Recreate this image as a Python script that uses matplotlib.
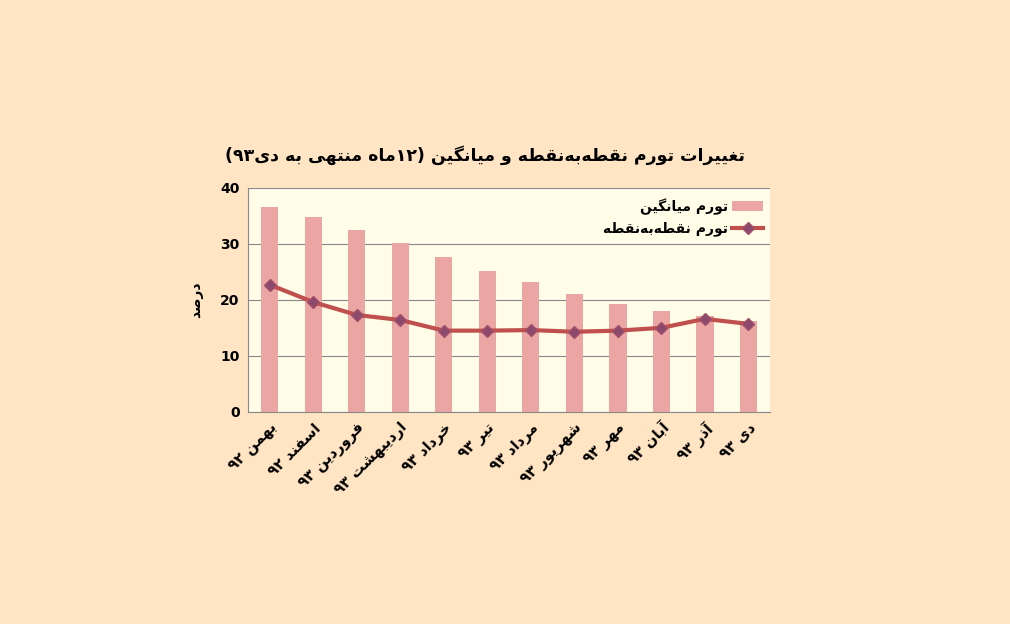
import matplotlib
matplotlib.use("Agg")
import matplotlib.pyplot as plt
import numpy as np

months = ["بهمن ۹۲", "اسفند ۹۲", "فروردین ۹۳", "اردیبهشت ۹۳", "خرداد ۹۳", "تیر ۹۳",
          "مرداد ۹۳", "شهریور ۹۳", "مهر ۹۳", "آبان ۹۳", "آذر ۹۳", "دی ۹۳"]
avg_infl = [36.6, 34.8, 32.5, 30.2, 27.7, 25.2, 23.2, 21.1, 19.3, 18.0, 17.1, 16.3]
p2p_infl = [22.7, 19.6, 17.3, 16.4, 14.5, 14.5, 14.6, 14.3, 14.5, 15.0, 16.6, 15.7]
title = "تغییرات تورم نقطه\u200cبه\u200cنقطه و میانگین (۱۲ماه منتهی به دی۹۳)"
leg_avg = "تورم میانگین"
leg_p2p = "تورم نقطه\u200cبه\u200cنقطه"
ylabel = "درصد"

# minimal Arabic/Persian shaping: (isolated, final, initial, medial)
FORMS = {
    'ا': (0xFE8D, 0xFE8E, None, None), 'آ': (0xFE81, 0xFE82, None, None),
    'د': (0xFEA9, 0xFEAA, None, None), 'ذ': (0xFEAB, 0xFEAC, None, None),
    'ر': (0xFEAD, 0xFEAE, None, None), 'ز': (0xFEAF, 0xFEB0, None, None),
    'و': (0xFEED, 0xFEEE, None, None),
    'ب': (0xFE8F, 0xFE90, 0xFE91, 0xFE92), 'ت': (0xFE95, 0xFE96, 0xFE97, 0xFE98),
    'خ': (0xFEA5, 0xFEA6, 0xFEA7, 0xFEA8), 'س': (0xFEB1, 0xFEB2, 0xFEB3, 0xFEB4),
    'ش': (0xFEB5, 0xFEB6, 0xFEB7, 0xFEB8), 'ط': (0xFEC1, 0xFEC2, 0xFEC3, 0xFEC4),
    'ص': (0xFEB9, 0xFEBA, 0xFEBB, 0xFEBC),
    'غ': (0xFECD, 0xFECE, 0xFECF, 0xFED0), 'ف': (0xFED1, 0xFED2, 0xFED3, 0xFED4),
    'ق': (0xFED5, 0xFED6, 0xFED7, 0xFED8), 'ک': (0xFB8E, 0xFB8F, 0xFB90, 0xFB91),
    'گ': (0xFB92, 0xFB93, 0xFB94, 0xFB95), 'ل': (0xFEDD, 0xFEDE, 0xFEDF, 0xFEE0),
    'م': (0xFEE1, 0xFEE2, 0xFEE3, 0xFEE4), 'ن': (0xFEE5, 0xFEE6, 0xFEE7, 0xFEE8),
    'ه': (0xFEE9, 0xFEEA, 0xFEEB, 0xFEEC), 'ی': (0xFBFC, 0xFBFD, 0xFBFE, 0xFBFF),
}
MIRROR = {'(': ')', ')': '('}

def dual(c):
    return c in FORMS and FORMS[c][2] is not None

def shape(s):
    chars = list(s)
    out = []
    for i, c in enumerate(chars):
        if c == '\u200c':
            continue
        if c not in FORMS:
            out.append(c)
            continue
        prev = chars[i - 1] if i > 0 else ''
        nxt = chars[i + 1] if i + 1 < len(chars) else ''
        jp = dual(prev)
        jn = dual(c) and nxt in FORMS
        f = FORMS[c]
        if jp and jn:
            out.append(chr(f[3]))
        elif jp:
            out.append(chr(f[1]))
        elif jn:
            out.append(chr(f[2]))
        else:
            out.append(chr(f[0]))
    runs, cur = [], ''
    for c in out:
        if c.isdigit():
            cur += c
        else:
            if cur:
                runs.append(cur); cur = ''
            runs.append(MIRROR.get(c, c))
    if cur:
        runs.append(cur)
    return ''.join(reversed(runs))

plt.rcParams['font.family'] = ['DejaVu Sans']

fig = plt.figure(figsize=(10.10, 6.24), dpi=100)
fig.patch.set_facecolor('#FFE5C4')
ax = fig.add_axes([0.2455, 0.340, 0.517, 0.359])
ax.set_facecolor('#FFFCE8')
x = np.arange(len(months))
bars = ax.bar(x, avg_infl, width=0.4, color='#EBA6A3', label=shape(leg_avg), zorder=2)
line, = ax.plot(x, p2p_infl, color='#C0504D', lw=3, marker='D', markersize=6,
                markerfacecolor='#8B4A6B', markeredgecolor='#A0506A', label=shape(leg_p2p), zorder=3)
ax.set_ylim(0, 40)
ax.set_xlim(-0.5, len(months) - 0.5)
ax.set_yticks([0, 10, 20, 30, 40])
ax.yaxis.grid(True, color='#888888', lw=0.8, zorder=0)
for s in ['top', 'right']:
    ax.spines[s].set_visible(False)
ax.spines['left'].set_color('#888888')
ax.spines['bottom'].set_color('#888888')
ax.tick_params(axis='both', length=0, pad=6)
ax.set_xticks(x)
ax.set_xticklabels([shape(m) for m in months], rotation=45, ha='right',
                   rotation_mode='anchor', fontsize=10.5, fontweight='bold')
for lab in ax.get_yticklabels():
    lab.set_fontweight('bold'); lab.set_fontsize(10)
ax.set_ylabel(shape(ylabel), fontsize=10, fontweight='bold', labelpad=12)
ax.legend([bars, line], [shape(leg_avg), shape(leg_p2p)], loc='upper right', frameon=False,
          prop={'weight': 'bold', 'size': 10}, markerfirst=False,
          bbox_to_anchor=(1.01, 1.01), handlelength=2.2, handletextpad=0.3)
fig.text(0.48, 0.752, shape(title), ha='center', va='center', fontsize=12.5, fontweight='bold')
fig.savefig('out.png', dpi=100, facecolor=fig.get_facecolor())
